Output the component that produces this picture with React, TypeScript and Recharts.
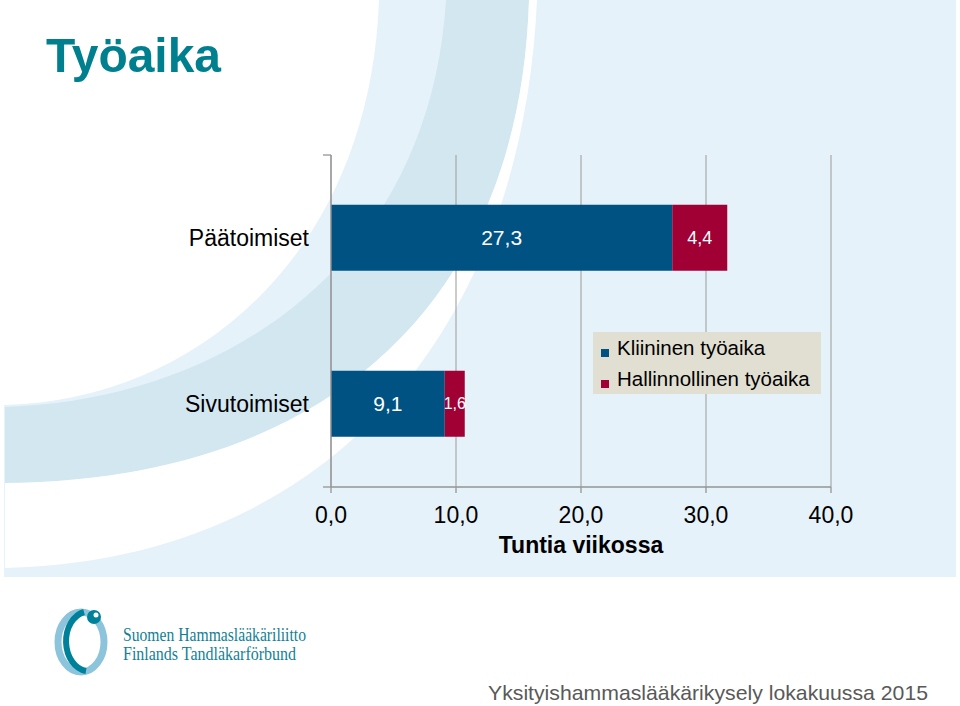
import React from 'react';
import { BarChart, Bar, XAxis, YAxis, CartesianGrid, LabelList, Legend } from 'recharts';

// ---- data ----
const categories = ['Päätoimiset', 'Sivutoimiset'];
const clinicalHours = [27.3, 9.1];
const adminHours = [4.4, 1.6];
const xTicks = [0, 10, 20, 30, 40];
const seriesNames = ['Kliininen työaika', 'Hallinnollinen työaika'];

// ---- styles ----
const FONT = '"Liberation Sans", Arial, sans-serif';
const BLUE = '#005282';
const RED = '#a00034';
const AXIS_GRAY = '#959595';
const GRID_GRAY = '#a8a8a8';
const PANEL = '#e6f2f9';
const BAND = '#d3e7f1';
const TEAL = '#00808f';
const RED_LABEL_SIZES = [18, 16];

const data = categories.map((name, i) => ({
  name,
  klin: clinicalHours[i],
  hall: adminHours[i],
}));

const fmt = (v: number) => v.toFixed(1).replace('.', ',');

const makeLabel = (sizes: number[] | number) => (props: any) => {
  const { x, y, width, height, value, index } = props;
  const fs = Array.isArray(sizes) ? sizes[index] ?? sizes[0] : sizes;
  return (
    <text
      x={Number(x) + Number(width) / 2}
      y={Number(y) + Number(height) / 2}
      textAnchor="middle"
      dominantBaseline="central"
      fill="#ffffff"
      fontSize={fs}
      fontFamily={FONT}
    >
      {fmt(Number(value))}
    </text>
  );
};

const EmptyTick = () => <g />;

const LegendBox = (props: any) => {
  const payload = [...(props.payload || [])].sort(
    (a: any, b: any) => seriesNames.indexOf(a.value) - seriesNames.indexOf(b.value)
  );
  return (
    <div
      style={{
        width: 228,
        height: 62,
        background: '#e1dfd2',
        fontFamily: FONT,
        fontSize: 20.5,
        lineHeight: '31px',
        color: '#000',
        boxSizing: 'border-box',
        textAlign: 'left',
      }}
    >
      {payload.map((p: any, i: number) => (
        <div key={i} style={{ position: 'relative', height: 31, paddingLeft: 24, whiteSpace: 'nowrap' }}>
          <span
            style={{
              position: 'absolute',
              left: 8,
              top: 17,
              width: 8,
              height: 8,
              background: p.color,
            }}
          />
          {p.value}
        </div>
      ))}
    </div>
  );
};

const Background = () => (
  <svg width={960} height={706} style={{ position: 'absolute', left: 0, top: 0 }}>
    <rect x={0} y={0} width={960} height={706} fill="#ffffff" />
    <rect x={4} y={0} width={952} height={577} fill={PANEL} />
    {/* white region top-left */}
    <path d="M0,0 L379,0 C370,250 200,400 5,405 L0,405 Z" fill="#ffffff" />
    {/* darker band */}
    <path d="M446,0 L529,0 C520,300 330,480 5,483 L5,407 C230,400 430,260 446,0 Z" fill={BAND} />
    {/* white swoosh */}
    <path d="M529,0 L537,0 C522,330 330,560 5,568 L5,483 C330,480 520,300 529,0 Z" fill="#ffffff" />
    {/* title */}
    <text x={46} y={72} fontFamily={FONT} fontWeight={700} fontSize={49} fill={TEAL} textLength={175} lengthAdjust="spacingAndGlyphs">
      Työaika
    </text>
    {/* logo */}
    <ellipse cx={81} cy={642} rx={23} ry={30} fill="none" stroke="#8cc4dc" strokeWidth={7} />
    <path d="M84,612 A23,30 0 0 0 86,671" fill="none" stroke="#00819a" strokeWidth={6} />
    <circle cx={94} cy={617} r={7} fill="#00819a" />
    <circle cx={96} cy={615} r={2.5} fill="#ffffff" />
    <text x={123} y={641} fontFamily='"Liberation Serif", serif' fontSize={18} fill="#137f94" textLength={183} lengthAdjust="spacingAndGlyphs">
      Suomen Hammaslääkäriliitto
    </text>
    <text x={123} y={660} fontFamily='"Liberation Serif", serif' fontSize={18} fill="#137f94" textLength={173} lengthAdjust="spacingAndGlyphs">
      Finlands Tandläkarförbund
    </text>
    {/* footer */}
    <text x={488} y={700} fontFamily={FONT} fontSize={21} fill="#595959" textLength={440} lengthAdjust="spacingAndGlyphs">
      Yksityishammaslääkärikysely lokakuussa 2015
    </text>
  </svg>
);

export default function App() {
  return (
    <div style={{ position: 'absolute', left: 0, top: 0, width: 960, height: 706, overflow: 'hidden' }}>
      <Background />
      <div style={{ position: 'absolute', left: 0, top: 0 }}>
        <BarChart
          width={960}
          height={706}
          data={data}
          layout="vertical"
          margin={{ top: 155, right: 129, bottom: 149, left: 0 }}
          barCategoryGap="30%"
        >
          <CartesianGrid yAxisId="b" horizontal={false} vertical={true} stroke={GRID_GRAY} strokeWidth={1.2} />
          <YAxis
            yAxisId="a"
            type="number"
            domain={[0, 2]}
            ticks={[0, 1, 2]}
            interval={0}
            width={1}
            tick={<EmptyTick />}
            tickSize={8}
            axisLine={{ stroke: AXIS_GRAY, strokeWidth: 1.3 }}
            tickLine={{ stroke: AXIS_GRAY, strokeWidth: 1.3 }}
          />
          <YAxis
            yAxisId="b"
            type="category"
            dataKey="name"
            width={330}
            axisLine={false}
            tickLine={false}
            tickSize={0}
            tickMargin={21}
            tick={{ fontSize: 23, fill: '#000', fontFamily: FONT }}
          />
          <XAxis
            type="number"
            domain={[0, 40]}
            ticks={xTicks}
            interval={0}
            tickFormatter={fmt}
            height={70}
            tickSize={6}
            tickMargin={14}
            axisLine={{ stroke: AXIS_GRAY, strokeWidth: 1.3 }}
            tickLine={{ stroke: AXIS_GRAY, strokeWidth: 1.3 }}
            tick={{ fontSize: 23, fill: '#000', fontFamily: FONT }}
            label={{ value: 'Tuntia viikossa', position: 'insideBottom', offset: 4, fill: '#000', fontSize: 23, fontWeight: 700, fontFamily: FONT }}
          />
          <Legend
            layout="vertical"
            align="center"
            verticalAlign="middle"
            wrapperStyle={{ position: 'absolute', left: 593, top: 332, width: 228, height: 62 }}
            content={<LegendBox />}
          />
          <Bar yAxisId="b" dataKey="klin" name={seriesNames[0]} stackId="s" fill={BLUE} isAnimationActive={false}>
            <LabelList dataKey="klin" content={makeLabel(21)} />
          </Bar>
          <Bar yAxisId="b" dataKey="hall" name={seriesNames[1]} stackId="s" fill={RED} isAnimationActive={false}>
            <LabelList dataKey="hall" content={makeLabel(RED_LABEL_SIZES)} />
          </Bar>
        </BarChart>
      </div>
    </div>
  );
}
